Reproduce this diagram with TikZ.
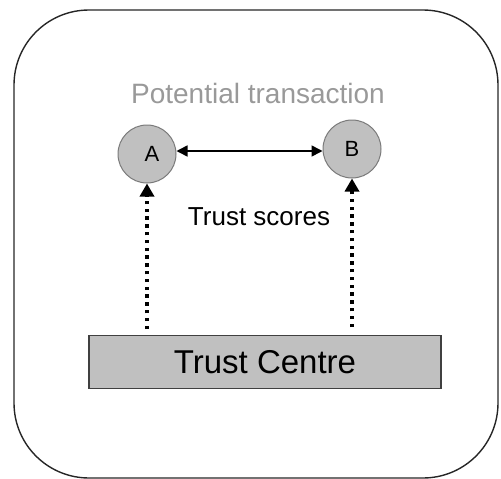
\documentclass[tikz,border=0pt]{standalone}
\usepackage{fontspec}
\setmainfont{Liberation Sans}
\usetikzlibrary{arrows.meta}
\definecolor{nodefill}{HTML}{C0C0C0}
\definecolor{nodeedge}{HTML}{7A7A7A}
\definecolor{lighttext}{HTML}{999999}
\begin{document}
\begin{tikzpicture}[x=1pt,y=-1pt,
  party/.style={circle,draw=nodeedge,fill=nodefill,line width=1pt,minimum size=58pt,inner sep=0pt,font=\fontsize{22}{26}\selectfont},
  centrebox/.style={draw=black!75,fill=nodefill,line width=1.2pt,minimum width=352pt,minimum height=53pt,inner sep=0pt,font=\fontsize{33}{38}\selectfont},
  scorearrow/.style={line width=3.5pt,dash pattern=on 3.5pt off 4.3pt,-{Triangle[length=13pt,width=14pt]}},
  dealarrow/.style={line width=1.6pt,{Triangle[length=11pt,width=11pt]}-{Triangle[length=11pt,width=11pt]}}]
\useasboundingbox (0,0) rectangle (501,479);
\draw[line width=1.4pt,black!85,rounded corners=75pt] (14,10) rectangle (498,478);
\node[text=lighttext,font=\fontsize{28}{32}\selectfont] (pt) at (258,93) {Potential transaction};
\node[party] (A) at (147,154) {\hspace{10pt}A};
\node[party] (B) at (352,149) {B};
\draw[dealarrow] (A.east |- 0,151) -- (B.west |- 0,151);
\node[font=\fontsize{26}{30}\selectfont] (ts) at (259,217) {Trust scores};
\node[centrebox] (tc) at (265,362) {Trust Centre};
\coordinate (la) at (147,329);
\coordinate (ra) at (352,327);
\draw[scorearrow] (la) -- (A.south);
\draw[scorearrow] (ra) -- (B.south);
\end{tikzpicture}
\end{document}
